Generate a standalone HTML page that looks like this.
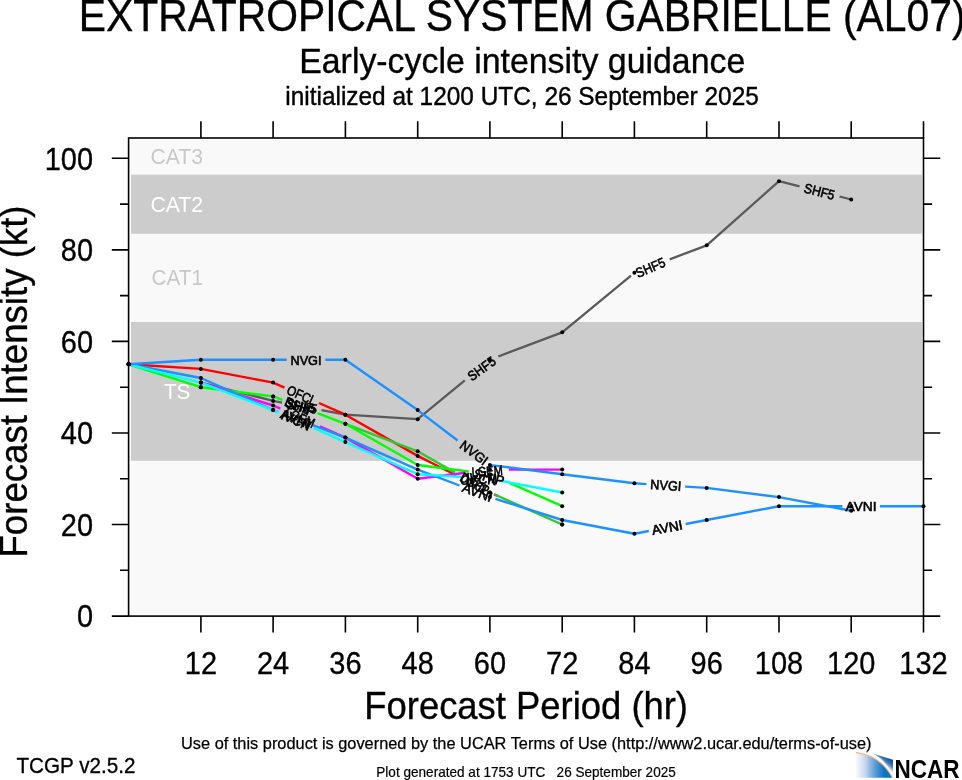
<!DOCTYPE html>
<html><head><meta charset="utf-8"><title>Early-cycle intensity guidance</title>
<style>html,body{margin:0;padding:0;background:#fff;overflow:hidden;}svg{display:block;}</style></head>
<body>
<svg width="962" height="780" viewBox="0 0 962 780" font-family="'Liberation Sans', Arial, Helvetica, sans-serif">
<rect x="0" y="0" width="962" height="780" fill="#ffffff"/>
<rect x="131.0" y="140.0" width="791.0" height="473.8" fill="#f9f9f9"/>
<rect x="131.0" y="174.7" width="791.0" height="59.0" fill="#cccccc"/>
<rect x="131.0" y="322.0" width="791.0" height="138.8" fill="#cccccc"/>
<text x="150.6" y="164.0" font-size="22" fill="#c8c8c8" textLength="52.4" lengthAdjust="spacingAndGlyphs">CAT3</text>
<text x="150.4" y="211.9" font-size="22" fill="#ffffff" textLength="52.6" lengthAdjust="spacingAndGlyphs">CAT2</text>
<text x="151.6" y="285.2" font-size="22" fill="#c8c8c8" textLength="51.4" lengthAdjust="spacingAndGlyphs">CAT1</text>
<text x="163.9" y="398.8" font-size="22" fill="#ffffff" textLength="26.4" lengthAdjust="spacingAndGlyphs">TS</text>
<polyline points="200.9,382.6 273.1,400.9 282.0,402.6" fill="none" stroke="#5a5a5a" stroke-width="2.3" stroke-linejoin="round"/>
<polyline points="321.5,410.1 345.4,414.7 417.7,419.2 464.8,380.4" fill="none" stroke="#5a5a5a" stroke-width="2.3" stroke-linejoin="round"/>
<polyline points="498.3,356.5 562.2,332.3 631.0,275.6" fill="none" stroke="#5a5a5a" stroke-width="2.3" stroke-linejoin="round"/>
<polyline points="669.7,259.3 706.7,245.3 779.0,181.2 799.5,186.4" fill="none" stroke="#5a5a5a" stroke-width="2.3" stroke-linejoin="round"/>
<polyline points="839.5,196.5 851.2,199.5" fill="none" stroke="#5a5a5a" stroke-width="2.3" stroke-linejoin="round"/>
<polyline points="128.6,364.3 200.9,368.9 273.1,382.6 284.5,387.7" fill="none" stroke="#ff0000" stroke-width="2.4" stroke-linejoin="round"/>
<polyline points="319.0,403.0 345.4,414.7 417.7,455.9 456.0,475.3" fill="none" stroke="#ff0000" stroke-width="2.4" stroke-linejoin="round"/>
<polyline points="494.0,494.3 498.0,496.1" fill="none" stroke="#ff0000" stroke-width="2.4" stroke-linejoin="round"/>
<polyline points="345.4,423.8 417.7,451.3 455.0,472.6" fill="none" stroke="#32c832" stroke-width="2.4" stroke-linejoin="round"/>
<polyline points="494.5,494.5 562.2,524.5" fill="none" stroke="#32c832" stroke-width="2.4" stroke-linejoin="round"/>
<polyline points="128.6,364.3 200.9,387.2 273.1,396.4 282.5,399.9" fill="none" stroke="#00ff00" stroke-width="2.4" stroke-linejoin="round"/>
<polyline points="317.4,413.2 345.4,423.8 417.7,465.0 468.8,471.5" fill="none" stroke="#00ff00" stroke-width="2.4" stroke-linejoin="round"/>
<polyline points="509.5,482.9 562.2,506.2" fill="none" stroke="#00ff00" stroke-width="2.4" stroke-linejoin="round"/>
<polyline points="200.9,382.6 273.1,405.5 280.4,408.7" fill="none" stroke="#ff00ff" stroke-width="2.4" stroke-linejoin="round"/>
<polyline points="319.9,426.3 345.4,437.6 417.7,478.8 465.6,472.7" fill="none" stroke="#ff00ff" stroke-width="2.4" stroke-linejoin="round"/>
<polyline points="508.8,469.6 562.2,469.6" fill="none" stroke="#ff00ff" stroke-width="2.4" stroke-linejoin="round"/>
<polyline points="128.6,364.3 200.9,378.0 273.1,410.1 278.3,412.1" fill="none" stroke="#1e90ff" stroke-width="2.4" stroke-linejoin="round"/>
<polyline points="312.8,425.2 345.4,437.6 417.7,469.6 459.5,485.5" fill="none" stroke="#1e90ff" stroke-width="2.4" stroke-linejoin="round"/>
<polyline points="495.4,498.8 562.2,520.0 634.4,533.7 648.8,531.0" fill="none" stroke="#1e90ff" stroke-width="2.4" stroke-linejoin="round"/>
<polyline points="685.7,524.0 706.7,520.0 779.0,506.2 842.4,506.2" fill="none" stroke="#1e90ff" stroke-width="2.4" stroke-linejoin="round"/>
<polyline points="879.9,506.2 923.5,506.2" fill="none" stroke="#1e90ff" stroke-width="2.4" stroke-linejoin="round"/>
<polyline points="128.6,364.3 200.9,382.6 273.1,410.1 278.7,412.6" fill="none" stroke="#00ffff" stroke-width="2.4" stroke-linejoin="round"/>
<polyline points="313.6,428.0 345.4,442.1 417.7,474.2 462.4,477.0" fill="none" stroke="#00ffff" stroke-width="2.4" stroke-linejoin="round"/>
<polyline points="500.5,480.8 562.2,492.5" fill="none" stroke="#00ffff" stroke-width="2.4" stroke-linejoin="round"/>
<polyline points="128.6,364.3 200.9,359.7 273.1,359.7 286.7,359.7" fill="none" stroke="#1e90ff" stroke-width="2.4" stroke-linejoin="round"/>
<polyline points="325.3,359.7 345.4,359.7 417.7,410.1 457.6,440.5" fill="none" stroke="#1e90ff" stroke-width="2.4" stroke-linejoin="round"/>
<polyline points="490.5,465.1 562.2,474.2 634.4,483.3 646.5,484.1" fill="none" stroke="#1e90ff" stroke-width="2.4" stroke-linejoin="round"/>
<polyline points="685.2,486.6 706.7,487.9 779.0,497.1 851.2,510.8" fill="none" stroke="#1e90ff" stroke-width="2.4" stroke-linejoin="round"/>
<circle cx="128.6" cy="364.3" r="2.0" fill="#000"/>
<circle cx="200.9" cy="382.6" r="2.0" fill="#000"/>
<circle cx="273.1" cy="400.9" r="2.0" fill="#000"/>
<circle cx="345.4" cy="414.7" r="2.0" fill="#000"/>
<circle cx="417.7" cy="419.2" r="2.0" fill="#000"/>
<circle cx="489.9" cy="359.7" r="2.0" fill="#000"/>
<circle cx="562.2" cy="332.3" r="2.0" fill="#000"/>
<circle cx="634.4" cy="272.8" r="2.0" fill="#000"/>
<circle cx="706.7" cy="245.3" r="2.0" fill="#000"/>
<circle cx="779.0" cy="181.2" r="2.0" fill="#000"/>
<circle cx="851.2" cy="199.5" r="2.0" fill="#000"/>
<circle cx="128.6" cy="364.3" r="2.0" fill="#000"/>
<circle cx="200.9" cy="368.9" r="2.0" fill="#000"/>
<circle cx="273.1" cy="382.6" r="2.0" fill="#000"/>
<circle cx="345.4" cy="414.7" r="2.0" fill="#000"/>
<circle cx="417.7" cy="455.9" r="2.0" fill="#000"/>
<circle cx="489.9" cy="492.5" r="2.0" fill="#000"/>
<circle cx="562.2" cy="524.5" r="2.0" fill="#000"/>
<circle cx="128.6" cy="364.3" r="2.0" fill="#000"/>
<circle cx="200.9" cy="387.2" r="2.0" fill="#000"/>
<circle cx="273.1" cy="396.4" r="2.0" fill="#000"/>
<circle cx="345.4" cy="423.8" r="2.0" fill="#000"/>
<circle cx="417.7" cy="451.3" r="2.0" fill="#000"/>
<circle cx="489.9" cy="492.5" r="2.0" fill="#000"/>
<circle cx="562.2" cy="524.5" r="2.0" fill="#000"/>
<circle cx="128.6" cy="364.3" r="2.0" fill="#000"/>
<circle cx="200.9" cy="387.2" r="2.0" fill="#000"/>
<circle cx="273.1" cy="396.4" r="2.0" fill="#000"/>
<circle cx="345.4" cy="423.8" r="2.0" fill="#000"/>
<circle cx="417.7" cy="465.0" r="2.0" fill="#000"/>
<circle cx="489.9" cy="474.2" r="2.0" fill="#000"/>
<circle cx="562.2" cy="506.2" r="2.0" fill="#000"/>
<circle cx="128.6" cy="364.3" r="2.0" fill="#000"/>
<circle cx="200.9" cy="382.6" r="2.0" fill="#000"/>
<circle cx="273.1" cy="405.5" r="2.0" fill="#000"/>
<circle cx="345.4" cy="437.6" r="2.0" fill="#000"/>
<circle cx="417.7" cy="478.8" r="2.0" fill="#000"/>
<circle cx="489.9" cy="469.6" r="2.0" fill="#000"/>
<circle cx="562.2" cy="469.6" r="2.0" fill="#000"/>
<circle cx="128.6" cy="364.3" r="2.0" fill="#000"/>
<circle cx="200.9" cy="378.0" r="2.0" fill="#000"/>
<circle cx="273.1" cy="410.1" r="2.0" fill="#000"/>
<circle cx="345.4" cy="437.6" r="2.0" fill="#000"/>
<circle cx="417.7" cy="469.6" r="2.0" fill="#000"/>
<circle cx="489.9" cy="497.1" r="2.0" fill="#000"/>
<circle cx="562.2" cy="520.0" r="2.0" fill="#000"/>
<circle cx="634.4" cy="533.7" r="2.0" fill="#000"/>
<circle cx="706.7" cy="520.0" r="2.0" fill="#000"/>
<circle cx="779.0" cy="506.2" r="2.0" fill="#000"/>
<circle cx="851.2" cy="506.2" r="2.0" fill="#000"/>
<circle cx="923.5" cy="506.2" r="2.0" fill="#000"/>
<circle cx="128.6" cy="364.3" r="2.0" fill="#000"/>
<circle cx="200.9" cy="382.6" r="2.0" fill="#000"/>
<circle cx="273.1" cy="410.1" r="2.0" fill="#000"/>
<circle cx="345.4" cy="442.1" r="2.0" fill="#000"/>
<circle cx="417.7" cy="474.2" r="2.0" fill="#000"/>
<circle cx="489.9" cy="478.8" r="2.0" fill="#000"/>
<circle cx="562.2" cy="492.5" r="2.0" fill="#000"/>
<circle cx="128.6" cy="364.3" r="2.0" fill="#000"/>
<circle cx="200.9" cy="359.7" r="2.0" fill="#000"/>
<circle cx="273.1" cy="359.7" r="2.0" fill="#000"/>
<circle cx="345.4" cy="359.7" r="2.0" fill="#000"/>
<circle cx="417.7" cy="410.1" r="2.0" fill="#000"/>
<circle cx="489.9" cy="465.0" r="2.0" fill="#000"/>
<circle cx="562.2" cy="474.2" r="2.0" fill="#000"/>
<circle cx="634.4" cy="483.3" r="2.0" fill="#000"/>
<circle cx="706.7" cy="487.9" r="2.0" fill="#000"/>
<circle cx="779.0" cy="497.1" r="2.0" fill="#000"/>
<circle cx="851.2" cy="510.8" r="2.0" fill="#000"/>
<text x="301.8" y="411.2" font-size="13.5" text-anchor="middle" stroke="#000" stroke-width="0.6" transform="rotate(10.8 301.8 406.4)" textLength="31" lengthAdjust="spacingAndGlyphs">SHF5</text>
<text x="481.6" y="373.3" font-size="13.5" text-anchor="middle" stroke="#000" stroke-width="0.6" transform="rotate(-35.5 481.6 368.5)" textLength="31" lengthAdjust="spacingAndGlyphs">SHF5</text>
<text x="650.4" y="272.3" font-size="13.5" text-anchor="middle" stroke="#000" stroke-width="0.6" transform="rotate(-22.8 650.4 267.5)" textLength="31" lengthAdjust="spacingAndGlyphs">SHF5</text>
<text x="819.5" y="196.3" font-size="13.5" text-anchor="middle" stroke="#000" stroke-width="0.6" transform="rotate(14.2 819.5 191.5)" textLength="31" lengthAdjust="spacingAndGlyphs">SHF5</text>
<text x="301.8" y="400.1" font-size="13.5" text-anchor="middle" stroke="#000" stroke-width="0.6" transform="rotate(23.9 301.8 395.3)" textLength="31" lengthAdjust="spacingAndGlyphs">OFCL</text>
<text x="475.0" y="489.6" font-size="13.5" text-anchor="middle" stroke="#000" stroke-width="0.6" transform="rotate(26.6 475.0 484.8)" textLength="31" lengthAdjust="spacingAndGlyphs">OFCL</text>
<text x="299.9" y="411.4" font-size="13.5" text-anchor="middle" stroke="#000" stroke-width="0.6" transform="rotate(20.8 299.9 406.6)" textLength="31" lengthAdjust="spacingAndGlyphs">DSHP</text>
<text x="474.8" y="488.4" font-size="13.5" text-anchor="middle" stroke="#000" stroke-width="0.6" transform="rotate(29.1 474.8 483.6)" textLength="31" lengthAdjust="spacingAndGlyphs">DSHP</text>
<text x="299.9" y="411.4" font-size="13.5" text-anchor="middle" stroke="#000" stroke-width="0.6" transform="rotate(20.8 299.9 406.6)" textLength="31" lengthAdjust="spacingAndGlyphs">SHIP</text>
<text x="489.1" y="482.0" font-size="13.5" text-anchor="middle" stroke="#000" stroke-width="0.6" transform="rotate(15.6 489.1 477.2)" textLength="31" lengthAdjust="spacingAndGlyphs">SHIP</text>
<text x="300.1" y="422.3" font-size="13.5" text-anchor="middle" stroke="#000" stroke-width="0.6" transform="rotate(23.9 300.1 417.5)" textLength="31" lengthAdjust="spacingAndGlyphs">LGEM</text>
<text x="487.2" y="475.9" font-size="13.5" text-anchor="middle" stroke="#000" stroke-width="0.6" transform="rotate(-4.1 487.2 471.1)" textLength="31" lengthAdjust="spacingAndGlyphs">LGEM</text>
<text x="295.6" y="423.4" font-size="13.5" text-anchor="middle" stroke="#000" stroke-width="0.6" transform="rotate(20.8 295.6 418.6)" textLength="31" lengthAdjust="spacingAndGlyphs">AVNI</text>
<text x="477.4" y="497.0" font-size="13.5" text-anchor="middle" stroke="#000" stroke-width="0.6" transform="rotate(20.3 477.4 492.2)" textLength="31" lengthAdjust="spacingAndGlyphs">AVNI</text>
<text x="667.2" y="532.3" font-size="13.5" text-anchor="middle" stroke="#000" stroke-width="0.6" transform="rotate(-10.8 667.2 527.5)" textLength="31" lengthAdjust="spacingAndGlyphs">AVNI</text>
<text x="861.1" y="511.0" font-size="13.5" text-anchor="middle" stroke="#000" stroke-width="0.6" transform="rotate(0.0 861.1 506.2)" textLength="31" lengthAdjust="spacingAndGlyphs">AVNI</text>
<text x="296.1" y="425.1" font-size="13.5" text-anchor="middle" stroke="#000" stroke-width="0.6" transform="rotate(23.9 296.1 420.3)" textLength="31" lengthAdjust="spacingAndGlyphs">IVCN</text>
<text x="481.4" y="483.7" font-size="13.5" text-anchor="middle" stroke="#000" stroke-width="0.6" transform="rotate(5.6 481.4 478.9)" textLength="31" lengthAdjust="spacingAndGlyphs">IVCN</text>
<text x="306.0" y="364.5" font-size="13.5" text-anchor="middle" stroke="#000" stroke-width="0.6" transform="rotate(0.0 306.0 359.7)" textLength="31" lengthAdjust="spacingAndGlyphs">NVGI</text>
<text x="474.1" y="457.6" font-size="13.5" text-anchor="middle" stroke="#000" stroke-width="0.6" transform="rotate(36.8 474.1 452.8)" textLength="31" lengthAdjust="spacingAndGlyphs">NVGI</text>
<text x="665.9" y="490.1" font-size="13.5" text-anchor="middle" stroke="#000" stroke-width="0.6" transform="rotate(3.6 665.9 485.3)" textLength="31" lengthAdjust="spacingAndGlyphs">NVGI</text>
<rect x="128.6" y="138.0" width="794.9" height="478.1" fill="none" stroke="#000" stroke-width="1.6"/>
<path d="M111.8,616.1H128.6 M923.5,616.1H940.3 M120.0,570.3H128.6 M923.5,570.3H932.1 M111.8,524.5H128.6 M923.5,524.5H940.3 M120.0,478.8H128.6 M923.5,478.8H932.1 M111.8,433.0H128.6 M923.5,433.0H940.3 M120.0,387.2H128.6 M923.5,387.2H932.1 M111.8,341.4H128.6 M923.5,341.4H940.3 M120.0,295.6H128.6 M923.5,295.6H932.1 M111.8,249.9H128.6 M923.5,249.9H940.3 M120.0,204.1H128.6 M923.5,204.1H932.1 M111.8,158.3H128.6 M923.5,158.3H940.3 M200.9,121.3V138.0 M200.9,616.1V632.5 M273.1,121.3V138.0 M273.1,616.1V632.5 M345.4,121.3V138.0 M345.4,616.1V632.5 M417.7,121.3V138.0 M417.7,616.1V632.5 M489.9,121.3V138.0 M489.9,616.1V632.5 M562.2,121.3V138.0 M562.2,616.1V632.5 M634.4,121.3V138.0 M634.4,616.1V632.5 M706.7,121.3V138.0 M706.7,616.1V632.5 M779.0,121.3V138.0 M779.0,616.1V632.5 M851.2,121.3V138.0 M851.2,616.1V632.5 M923.5,121.3V138.0 M923.5,616.1V632.5" stroke="#000" stroke-width="1.6" fill="none"/>
<text x="93.0" y="627.3" font-size="31" text-anchor="end" textLength="16.1" lengthAdjust="spacingAndGlyphs" stroke="#000" stroke-width="0.35">0</text>
<text x="93.0" y="535.7" font-size="31" text-anchor="end" textLength="32.2" lengthAdjust="spacingAndGlyphs" stroke="#000" stroke-width="0.35">20</text>
<text x="93.0" y="444.2" font-size="31" text-anchor="end" textLength="32.2" lengthAdjust="spacingAndGlyphs" stroke="#000" stroke-width="0.35">40</text>
<text x="93.0" y="352.6" font-size="31" text-anchor="end" textLength="32.2" lengthAdjust="spacingAndGlyphs" stroke="#000" stroke-width="0.35">60</text>
<text x="93.0" y="261.1" font-size="31" text-anchor="end" textLength="32.2" lengthAdjust="spacingAndGlyphs" stroke="#000" stroke-width="0.35">80</text>
<text x="93.0" y="169.5" font-size="31" text-anchor="end" textLength="48.3" lengthAdjust="spacingAndGlyphs" stroke="#000" stroke-width="0.35">100</text>
<text x="200.9" y="674.1" font-size="31" text-anchor="middle" textLength="32.2" lengthAdjust="spacingAndGlyphs" stroke="#000" stroke-width="0.35">12</text>
<text x="273.1" y="674.1" font-size="31" text-anchor="middle" textLength="32.2" lengthAdjust="spacingAndGlyphs" stroke="#000" stroke-width="0.35">24</text>
<text x="345.4" y="674.1" font-size="31" text-anchor="middle" textLength="32.2" lengthAdjust="spacingAndGlyphs" stroke="#000" stroke-width="0.35">36</text>
<text x="417.7" y="674.1" font-size="31" text-anchor="middle" textLength="32.2" lengthAdjust="spacingAndGlyphs" stroke="#000" stroke-width="0.35">48</text>
<text x="489.9" y="674.1" font-size="31" text-anchor="middle" textLength="32.2" lengthAdjust="spacingAndGlyphs" stroke="#000" stroke-width="0.35">60</text>
<text x="562.2" y="674.1" font-size="31" text-anchor="middle" textLength="32.2" lengthAdjust="spacingAndGlyphs" stroke="#000" stroke-width="0.35">72</text>
<text x="634.4" y="674.1" font-size="31" text-anchor="middle" textLength="32.2" lengthAdjust="spacingAndGlyphs" stroke="#000" stroke-width="0.35">84</text>
<text x="706.7" y="674.1" font-size="31" text-anchor="middle" textLength="32.2" lengthAdjust="spacingAndGlyphs" stroke="#000" stroke-width="0.35">96</text>
<text x="779.0" y="674.1" font-size="31" text-anchor="middle" textLength="48.3" lengthAdjust="spacingAndGlyphs" stroke="#000" stroke-width="0.35">108</text>
<text x="851.2" y="674.1" font-size="31" text-anchor="middle" textLength="48.3" lengthAdjust="spacingAndGlyphs" stroke="#000" stroke-width="0.35">120</text>
<text x="923.5" y="674.1" font-size="31" text-anchor="middle" textLength="48.3" lengthAdjust="spacingAndGlyphs" stroke="#000" stroke-width="0.35">132</text>
<text x="78.8" y="30.6" font-size="43.5" textLength="886.7" lengthAdjust="spacingAndGlyphs" stroke="#000" stroke-width="0.35">EXTRATROPICAL SYSTEM GABRIELLE (AL07)</text>
<text x="299.2" y="72.5" font-size="35.8" textLength="446.1" lengthAdjust="spacingAndGlyphs" stroke="#000" stroke-width="0.35">Early-cycle intensity guidance</text>
<text x="285.3" y="104.9" font-size="25.2" textLength="473.5" lengthAdjust="spacingAndGlyphs" stroke="#000" stroke-width="0.4">initialized at 1200 UTC, 26 September 2025</text>
<text x="364.3" y="719.3" font-size="39.5" textLength="323.7" lengthAdjust="spacingAndGlyphs" stroke="#000" stroke-width="0.35">Forecast Period (hr)</text>
<text x="0" y="0" font-size="39.5" textLength="352.0" lengthAdjust="spacingAndGlyphs" stroke="#000" stroke-width="0.35" transform="translate(27.2 557.5) rotate(-90)">Forecast Intensity (kt)</text>
<text x="181.0" y="748.6" font-size="17.4" textLength="690.5" lengthAdjust="spacingAndGlyphs" stroke="#000" stroke-width="0.25">Use of this product is governed by the UCAR Terms of Use (http://www2.ucar.edu/terms-of-use)</text>
<text x="16.5" y="772.5" font-size="21.5" textLength="119.0" lengthAdjust="spacingAndGlyphs" stroke="#000" stroke-width="0.3">TCGP v2.5.2</text>
<text x="376.3" y="777.2" font-size="14.5" textLength="299.5" lengthAdjust="spacingAndGlyphs" xml:space="preserve" stroke="#000" stroke-width="0.2">Plot generated at 1753 UTC   26 September 2025</text>
<defs>
<linearGradient id="ng1" gradientUnits="userSpaceOnUse" x1="855" y1="0" x2="884" y2="0">
<stop offset="0" stop-color="#ffffff"/><stop offset="0.35" stop-color="#c6d8ef"/><stop offset="0.7" stop-color="#5d9ad6"/><stop offset="1" stop-color="#0a74c6"/></linearGradient>
<linearGradient id="ng2" gradientUnits="userSpaceOnUse" x1="881" y1="763" x2="887" y2="756">
<stop offset="0" stop-color="#ffffff"/><stop offset="0.5" stop-color="#3f78b8"/><stop offset="1" stop-color="#0a4f98"/></linearGradient>
</defs>
<path d="M855,752.5 Q880,755 892.5,777.8 L855,777.8 Z" fill="url(#ng1)"/>
<path d="M863,750.6 L893,759.8 L893,775.5 Q883.5,754.6 863,750.6 Z" fill="url(#ng2)"/>
<path d="M856,752.6 Q880,755.2 892.3,777.3" stroke="#f8b272" stroke-width="1.1" fill="none"/>
<text x="894.6" y="777.6" font-size="25" font-weight="bold" textLength="65" lengthAdjust="spacingAndGlyphs">NCAR</text>
</svg>
</body></html>
